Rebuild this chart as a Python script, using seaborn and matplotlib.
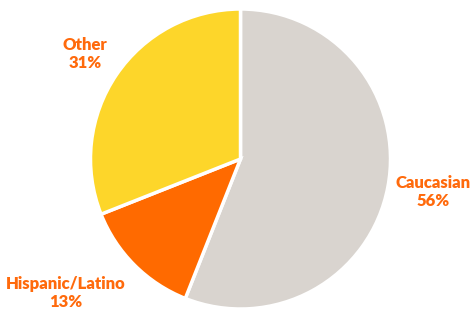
import matplotlib
matplotlib.use("Agg")
import matplotlib.pyplot as plt
import seaborn as sns

categories = ["Caucasian", "Hispanic/Latino", "Other"]
values = [56, 13, 31]
pct_labels = ["56%", "13%", "31%"]

sns.set_theme(style="white")
plt.rcParams['font.family'] = ['Lato', 'DejaVu Sans']

colors = ["#d9d4cf", "#ff6a00", "#fdd62a"]
text_color = "#ff6a0c"

fig = plt.figure(figsize=(4.77, 3.15), dpi=100)
ax = fig.add_axes([0, 0, 1, 1])
ax.pie(values, colors=colors, startangle=90, counterclock=False,
       center=(240.5, 156), radius=150, frame=True,
       wedgeprops=dict(edgecolor="white", linewidth=2.5))
ax.set_xlim(0, 477)
ax.set_ylim(0, 315)
ax.set_aspect('equal')
ax.axis('off')

label_pos = {"Caucasian": (433, 123), "Hispanic/Latino": (66, 22), "Other": (85, 261)}
for cat, pct in zip(categories, pct_labels):
    x, y = label_pos[cat]
    ax.text(x, y, f"{cat}\n{pct}", ha="center", va="center", color=text_color,
            fontsize=12, fontweight="heavy", linespacing=1.2)

fig.savefig("out.png", dpi=100)
